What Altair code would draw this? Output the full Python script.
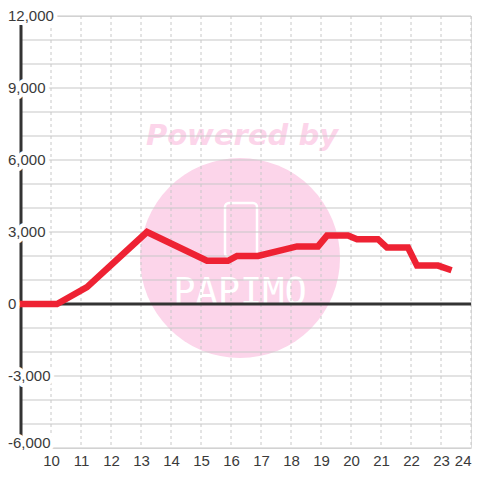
import altair as alt
import pandas as pd

# data
hours = [9.0, 10.2, 11.2, 13.2, 15.2, 15.9, 16.2, 16.9, 18.2, 18.9, 19.2, 19.9,
         20.2, 20.9, 21.2, 21.9, 22.2, 22.9, 23.25]
values = [0, 0, 700, 3000, 1800, 1800, 2000, 2000, 2400, 2400, 2850, 2850,
          2700, 2700, 2350, 2350, 1600, 1600, 1450]
x_ticks = list(range(10, 25))
y_grid = list(range(-6000, 12001, 1000))
y_labels = [-6000, -3000, 0, 3000, 6000, 9000, 12000]

XDOM = [9, 24]
YDOM = [-6000, 12000]
RED = "#EE2233"
PINK = "#FCD5EA"
FONT = "Liberation Sans"
W, H = 450, 432

line_df = pd.DataFrame({"h": hours, "v": values})
xg_df = pd.DataFrame({"h": x_ticks})
yg_df = pd.DataFrame({"v": y_grid})
lab_df = pd.DataFrame({"v": y_labels,
                       "t": [f"{v:,}" for v in y_labels]})

xs = alt.Scale(domain=XDOM, nice=False, zero=False)
ys = alt.Scale(domain=YDOM, nice=False, zero=False)
xaxis = alt.Axis(values=x_ticks, grid=False, domain=False, ticks=False,
                 labelPadding=5, labelFont=FONT, labelFontSize=15,
                 labelColor="#3a3a3a", format="d", title=None,
                 labelFlush=True, labelOverlap=False, labelBound=False)

one = pd.DataFrame({"a": [0]})

# watermark
circle = alt.Chart(one).mark_point(filled=True, shape="circle", color=PINK,
                                   opacity=1, size=40000).encode(
    x=alt.value(219), y=alt.value(242))
powered = alt.Chart(one).mark_text(text="Powered by", font="DejaVu Sans",
                                   fontSize=29, fontWeight="bold",
                                   fontStyle="italic", color=PINK,
                                   align="center", baseline="alphabetic").encode(
    x=alt.value(221), y=alt.value(129))
logo_text = alt.Chart(one).mark_text(text="PAPIMO", font="DejaVu Sans Mono",
                                     fontSize=37, color="white",
                                     align="center", baseline="alphabetic").encode(
    x=alt.value(219), y=alt.value(288))
phone = alt.Chart(one).mark_rect(fill=PINK, stroke="white", strokeWidth=2.5,
                                 cornerRadius=4).encode(
    x=alt.value(204), x2=alt.value(236), y=alt.value(187), y2=alt.value(241))

# grid
hgrid = alt.Chart(yg_df).mark_rule(color="#c8c8c8", strokeWidth=1.2).encode(
    y=alt.Y("v:Q", scale=ys, axis=None),
    x=alt.value(0), x2=alt.value(W))
vgrid = alt.Chart(xg_df).mark_rule(color="#c8c8c8", strokeWidth=1,
                                   strokeDash=[3, 3]).encode(
    x=alt.X("h:Q", scale=xs, axis=xaxis),
    y=alt.value(0), y2=alt.value(H))

zero = alt.Chart(one).mark_rule(color="#333333", strokeWidth=3).encode(
    y=alt.Y("datum:Q", scale=ys, axis=None), x=alt.value(0), x2=alt.value(W)
).transform_calculate(datum="0")

yaxis = alt.Chart(one).mark_rule(color="#333333", strokeWidth=3).encode(
    x=alt.value(0), y=alt.value(0), y2=alt.value(H))

line = alt.Chart(line_df).mark_line(color=RED, strokeWidth=6.5,
                                    strokeCap="square", strokeJoin="miter").encode(
    x=alt.X("h:Q", scale=xs, axis=xaxis),
    y=alt.Y("v:Q", scale=ys, axis=None))

def labels(halo, bottom):
    props = dict(font=FONT, fontSize=15, align="left")
    if bottom:
        props.update(baseline="alphabetic", dy=-0.5)
    else:
        props.update(baseline="middle")
    if halo:
        props.update(color="white", stroke="white", strokeWidth=8,
                     strokeJoin="round")
    else:
        props.update(color="#3a3a3a")
    flt = "datum.v == -6000" if bottom else "datum.v != -6000"
    return alt.Chart(lab_df).mark_text(**props).encode(
        x=alt.value(-13), y=alt.Y("v:Q", scale=ys, axis=None), text="t:N"
    ).transform_filter(flt)

chart = alt.layer(
    circle, powered, logo_text, phone,
    hgrid, vgrid, zero, yaxis, line,
    labels(True, False), labels(True, True),
    labels(False, False), labels(False, True)
).properties(
    width=W, height=H,
    autosize=alt.AutoSizeParams(type="none"),
    padding={"left": 13, "top": 8, "right": 1, "bottom": 24},
).configure_view(strokeWidth=0).configure(background="white")

chart.save("out.html", embed_options={"renderer": "svg", "actions": False})
